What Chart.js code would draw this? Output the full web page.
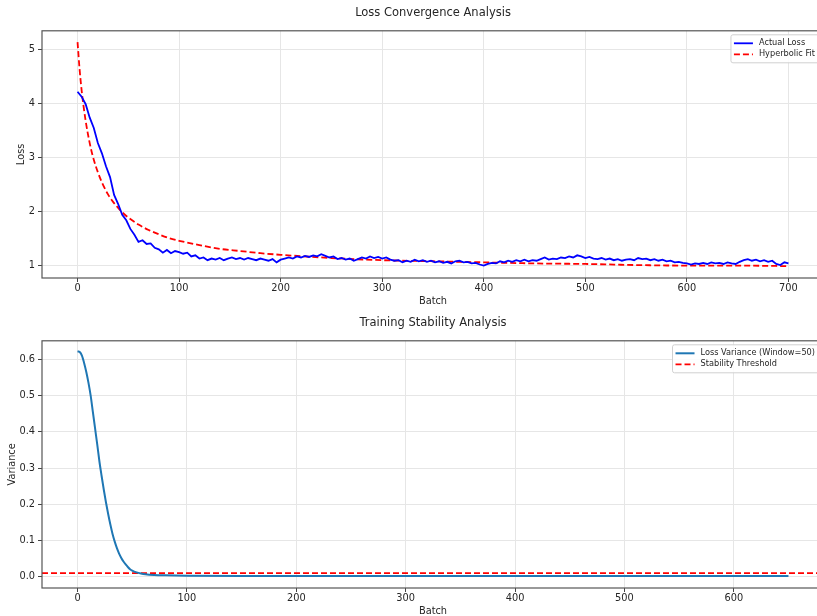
<!DOCTYPE html>
<html>
<head>
<meta charset="utf-8">
<script src="https://cdn.jsdelivr.net/npm/chart.js@4.4.1/dist/chart.umd.min.js"></script>
<style>
html,body{margin:0;padding:0;background:#fff;overflow:hidden;width:817px;height:616px;}
canvas{position:absolute;left:0;}
#lossChart{top:0;}
#varChart{top:310px;}
</style>
</head>
<body>
<canvas id="lossChart" width="830" height="310"></canvas>
<canvas id="varChart" width="830" height="310"></canvas>
<script>
// actual loss, one value every 4 batches (0..700)
const lossStep = 4;
const lossValues = [
 4.22,4.13,3.99,3.74,3.55,3.27,3.08,2.84,2.64,2.31,
 2.14,1.94,1.84,1.68,1.57,1.44,1.47,1.40,1.41,1.33,
 1.30,1.24,1.29,1.23,1.27,1.25,1.22,1.24,1.17,1.19,
 1.13,1.15,1.10,1.13,1.11,1.14,1.10,1.13,1.15,1.12,
 1.14,1.11,1.14,1.12,1.10,1.13,1.11,1.09,1.12,1.06,
 1.11,1.13,1.15,1.13,1.17,1.15,1.18,1.16,1.19,1.17,
 1.21,1.18,1.15,1.17,1.12,1.14,1.11,1.13,1.09,1.12,
 1.15,1.13,1.17,1.14,1.16,1.13,1.15,1.11,1.09,1.10,
 1.06,1.09,1.07,1.11,1.08,1.10,1.07,1.09,1.06,1.08,
 1.05,1.07,1.04,1.08,1.09,1.06,1.07,1.04,1.05,1.02,
 1.00,1.03,1.05,1.04,1.08,1.06,1.09,1.07,1.10,1.08,
 1.11,1.08,1.10,1.09,1.12,1.15,1.11,1.13,1.12,1.15,
 1.14,1.17,1.15,1.19,1.17,1.14,1.16,1.13,1.12,1.14,
 1.11,1.13,1.10,1.12,1.09,1.11,1.12,1.10,1.14,1.12,
 1.13,1.10,1.12,1.09,1.11,1.08,1.09,1.06,1.07,1.05,
 1.04,1.02,1.04,1.03,1.05,1.03,1.06,1.04,1.05,1.03,
 1.06,1.04,1.03,1.07,1.10,1.12,1.09,1.11,1.08,1.10,
 1.07,1.09,1.03,1.01,1.06,1.04
];
// hyperbolic fit
const fitBatch = [0,2,4,6,8,10,13,16,20,25,30,35,40,45,50,60,70,80,90,100,120,140,160,180,200,250,300,350,400,450,500,550,600,650,700];
const fitLoss = [5.14,4.64,4.25,3.94,3.68,3.46,3.18,2.96,2.73,2.50,2.32,2.18,2.07,1.97,1.89,1.76,1.66,1.58,1.51,1.46,1.38,1.31,1.27,1.23,1.20,1.14,1.10,1.08,1.06,1.04,1.03,1.01,1.00,1.00,0.99];
// rolling variance
const varBatch = [0,2,4,6,8,10,12,14,16,18,20,22,24,26,28,30,32,34,36,38,40,42,44,46,48,50,54,58,62,70,80,100,150,200,300,400,500,600,650];
const varValue = [0.622,0.620,0.610,0.590,0.565,0.535,0.500,0.455,0.410,0.365,0.318,0.278,0.240,0.205,0.173,0.144,0.118,0.097,0.079,0.064,0.052,0.042,0.034,0.027,0.021,0.017,0.012,0.009,0.007,0.005,0.004,0.003,0.002,0.002,0.002,0.002,0.002,0.002,0.002];
const stabilityThreshold = 0.01;

const FONT = 'DejaVu Sans';
const TXT = '#262626';

const framePlugin = {
  id: 'frame',
  afterDatasetsDraw(chart){
    const {ctx, chartArea:a} = chart;
    ctx.save();
    ctx.strokeStyle = '#555';
    ctx.lineWidth = 1.2;
    ctx.strokeRect(a.left, a.top, a.right-a.left, a.bottom-a.top);
    ctx.restore();
  }
};

const boxLegend = {
  id: 'boxLegend',
  afterDraw(chart){
    const {ctx, chartArea:a} = chart;
    const sets = chart.data.datasets;
    ctx.save();
    ctx.font = '8.2px "' + FONT + '"';
    let tw = 0;
    sets.forEach(d => { tw = Math.max(tw, ctx.measureText(d.label).width); });
    const w = 3 + 19 + 6 + tw + 5, h = 28;
    const x = a.right - 4 - w, y = a.top + 4;
    ctx.beginPath();
    ctx.roundRect(x, y, w, h, 2);
    ctx.fillStyle = 'rgba(255,255,255,0.85)';
    ctx.fill();
    ctx.strokeStyle = '#d0d0d0';
    ctx.lineWidth = 1;
    ctx.stroke();
    sets.forEach((d, i) => {
      const ly = y + 8.5 + i*11;
      ctx.beginPath();
      ctx.setLineDash(d.borderDash || []);
      ctx.strokeStyle = d.borderColor;
      ctx.lineWidth = d.borderWidth;
      ctx.moveTo(x+3, ly); ctx.lineTo(x+22, ly);
      ctx.stroke();
      ctx.setLineDash([]);
      ctx.fillStyle = TXT;
      ctx.textBaseline = 'middle';
      ctx.fillText(d.label, x+28, ly);
    });
    ctx.restore();
  }
};

function axes(xMin, xMax, yMin, yMax, yStep, yTitle, yTitlePad, fmt){
  return {
    x: {
      type: 'linear', min: xMin, max: xMax,
      afterFit(s){ s.height = 32; },
      ticks: {stepSize: 100, includeBounds: false, autoSkip: false, maxRotation: 0, padding: 1,
        color: TXT, font: {family: FONT, size: 9.8}},
      grid: {color: '#e6e6e6', lineWidth: 1, tickLength: 4, tickColor: '#444'},
      border: {display: false},
      title: {display: true, text: 'Batch', color: TXT, font: {family: FONT, size: 9.8}, padding: {top: 0, bottom: 3}}
    },
    y: {
      type: 'linear', min: yMin, max: yMax,
      afterFit(s){ s.width = 42; },
      ticks: {stepSize: yStep, includeBounds: false, padding: 3, color: TXT,
        font: {family: FONT, size: 9.8}, callback: fmt},
      grid: {color: '#e6e6e6', lineWidth: 1, tickLength: 4, tickColor: '#444'},
      border: {display: false},
      title: {display: true, text: yTitle, color: TXT, font: {family: FONT, size: 9.8}, padding: {top: yTitlePad, bottom: 0}}
    }
  };
}

function baseOptions(title, scales){
  return {
    responsive: false, animation: false, devicePixelRatio: 1,
    layout: {padding: {left: 0, right: 6, top: 0, bottom: 0}},
    elements: {point: {radius: 0}},
    plugins: {
      legend: {display: false},
      tooltip: {enabled: false},
      // not fullSize, so the title is centred over the plot area like matplotlib
      title: {display: true, fullSize: false, text: title, color: TXT,
        font: {family: FONT, size: 11.5, weight: 'normal'}, padding: {top: 6, bottom: 11}}
    },
    scales: scales
  };
}

const lossPts = lossValues.map((v, i) => ({x: i*lossStep, y: v}));
const fitPts = fitBatch.map((b, i) => ({x: b, y: fitLoss[i]}));

new Chart(document.getElementById('lossChart'), {
  type: 'line',
  data: {datasets: [
    {label: 'Actual Loss', data: lossPts, borderColor: '#0000ff', borderWidth: 1.8, tension: 0},
    {label: 'Hyperbolic Fit', data: fitPts, borderColor: '#ff0000', borderWidth: 1.8, borderDash: [6,3], cubicInterpolationMode: 'monotone'}
  ]},
  options: baseOptions('Loss Convergence Analysis',
    axes(-35, 735, 0.77, 5.35, 1, 'Loss', 16, v => String(v))),
  plugins: [framePlugin, boxLegend]
});

const varXMin = -32.5, varXMax = 682.5;
const varPts = varBatch.map((b, i) => ({x: b, y: varValue[i]}));

new Chart(document.getElementById('varChart'), {
  type: 'line',
  data: {datasets: [
    {label: 'Loss Variance (Window=50)', data: varPts, borderColor: '#1f77b4', borderWidth: 2, cubicInterpolationMode: 'monotone'},
    {label: 'Stability Threshold', data: [{x: varXMin, y: stabilityThreshold}, {x: varXMax, y: stabilityThreshold}],
      borderColor: '#ff0000', borderWidth: 1.8, borderDash: [6,3]}
  ]},
  options: baseOptions('Training Stability Analysis',
    axes(varXMin, varXMax, -0.031, 0.651, 0.1, 'Variance', 6.5, v => (Math.abs(v) < 1e-9 ? 0 : v).toFixed(1))),
  plugins: [framePlugin, boxLegend]
});
</script>
</body>
</html>
